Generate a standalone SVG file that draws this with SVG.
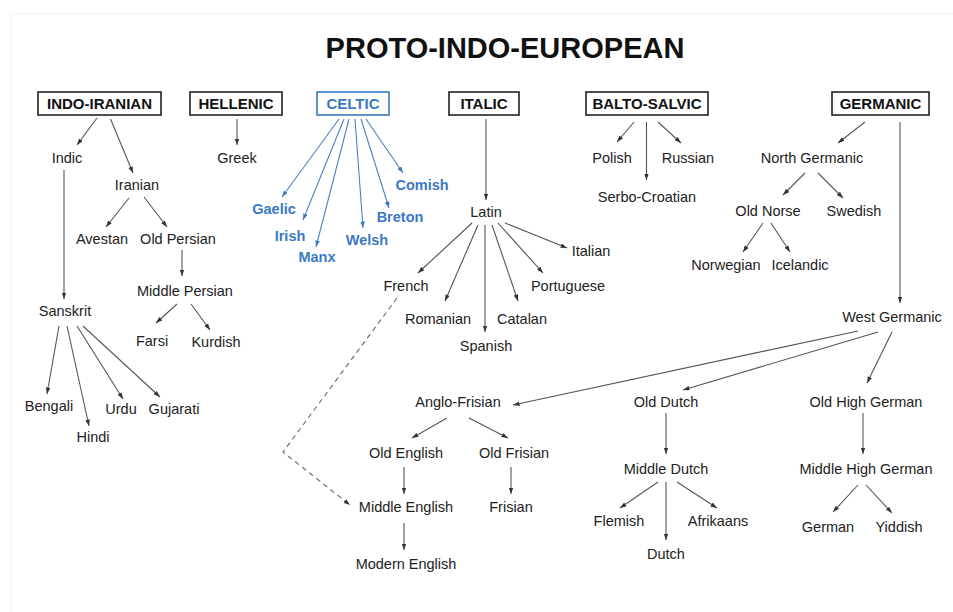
<svg xmlns="http://www.w3.org/2000/svg" width="953" height="612" viewBox="0 0 953 612">
<style>
  .t{font-family:"Liberation Sans",Arial,sans-serif;font-size:14.5px;fill:#222;text-anchor:middle}
  .b{font-family:"Liberation Sans",Arial,sans-serif;font-size:15px;font-weight:bold;fill:#111;text-anchor:middle}
  .c{font-family:"Liberation Sans",Arial,sans-serif;font-size:14.5px;font-weight:bold;fill:#3b78c4;text-anchor:middle}
  .box{fill:#fff;stroke:#222;stroke-width:1.6}
  .cbox{fill:#fff;stroke:#3b78c4;stroke-width:1.6}
  .l{stroke:#555;stroke-width:1.1;fill:none;marker-end:url(#ah)}
  .lb{stroke:#4a82c8;stroke-width:1.1;fill:none;marker-end:url(#ahb)}
  .d{stroke:#666;stroke-width:1.1;fill:none;stroke-dasharray:5 4;marker-end:url(#ah)}
</style>
<defs>
  <marker id="ah" markerUnits="userSpaceOnUse" markerWidth="7" markerHeight="5" refX="6.5" refY="2.3" orient="auto">
    <path d="M0,0 L6.5,2.3 L0,4.6 z" fill="#333"/>
  </marker>
  <marker id="ahb" markerUnits="userSpaceOnUse" markerWidth="7" markerHeight="5" refX="6.5" refY="2.3" orient="auto">
    <path d="M0,0 L6.5,2.3 L0,4.6 z" fill="#3b78c4"/>
  </marker>
</defs>
<rect width="953" height="612" fill="#fff"/>
<polyline points="11,612 11,14 953,14" fill="none" stroke="#efefef" stroke-width="1"/>

<text x="505" y="58" style="font-family:'Liberation Sans',Arial,sans-serif;font-size:29px;font-weight:bold;fill:#111;text-anchor:middle">PROTO-INDO-EUROPEAN</text>

<g id="connectors">
  <!-- Indo-Iranian -->
  <line class="l" x1="97" y1="118" x2="77" y2="145"/>
  <line class="l" x1="110.5" y1="119" x2="133" y2="173"/>
  <line class="l" x1="129" y1="198" x2="106" y2="227"/>
  <line class="l" x1="144" y1="197" x2="167" y2="227"/>
  <line class="l" x1="182" y1="250" x2="182" y2="276"/>
  <line class="l" x1="64" y1="170" x2="64" y2="299"/>
  <line class="l" x1="177" y1="304" x2="156" y2="323"/>
  <line class="l" x1="191" y1="304" x2="210" y2="330"/>
  <line class="l" x1="59" y1="326" x2="47" y2="394"/>
  <line class="l" x1="67" y1="326" x2="89" y2="426"/>
  <line class="l" x1="77" y1="326" x2="123" y2="399"/>
  <line class="l" x1="83" y1="326" x2="160" y2="397"/>
  <!-- Hellenic -->
  <line class="l" x1="237" y1="119" x2="237" y2="145"/>
  <!-- Celtic -->
  <line class="lb" x1="339" y1="119" x2="282" y2="197"/>
  <line class="lb" x1="344" y1="119" x2="303" y2="220"/>
  <line class="lb" x1="349" y1="119" x2="316" y2="247"/>
  <line class="lb" x1="355" y1="119" x2="363" y2="228"/>
  <line class="lb" x1="361" y1="119" x2="389" y2="208"/>
  <line class="lb" x1="366" y1="119" x2="403" y2="173"/>
  <!-- Italic -->
  <line class="l" x1="486" y1="119" x2="486" y2="200"/>
  <line class="l" x1="472" y1="223" x2="418" y2="273"/>
  <line class="l" x1="478" y1="225" x2="445" y2="301"/>
  <line class="l" x1="485" y1="225" x2="485" y2="332"/>
  <line class="l" x1="492" y1="225" x2="518" y2="301"/>
  <line class="l" x1="498" y1="223" x2="543" y2="273"/>
  <line class="l" x1="505" y1="223" x2="567" y2="248"/>
  <polyline class="d" points="397,298 283,452 350,505"/>
  <!-- Balto-Slavic -->
  <line class="l" x1="634" y1="122" x2="617" y2="142"/>
  <line class="l" x1="646.5" y1="122" x2="646.5" y2="180"/>
  <line class="l" x1="658" y1="122" x2="681" y2="143"/>
  <!-- Germanic -->
  <line class="l" x1="865" y1="122" x2="838" y2="143"/>
  <line class="l" x1="900" y1="122" x2="900" y2="303"/>
  <line class="l" x1="805" y1="173" x2="783" y2="195"/>
  <line class="l" x1="818" y1="173" x2="843" y2="198"/>
  <line class="l" x1="763" y1="223" x2="743" y2="252"/>
  <line class="l" x1="771" y1="223" x2="790" y2="252"/>
  <line class="l" x1="858" y1="331" x2="513" y2="405"/>
  <line class="l" x1="878" y1="332" x2="683" y2="390"/>
  <line class="l" x1="892" y1="332" x2="867" y2="383"/>
  <line class="l" x1="447" y1="418" x2="412" y2="438"/>
  <line class="l" x1="469" y1="418" x2="508" y2="438"/>
  <line class="l" x1="404" y1="467" x2="404" y2="494"/>
  <line class="l" x1="511" y1="467" x2="511" y2="494"/>
  <line class="l" x1="404" y1="523" x2="404" y2="550"/>
  <line class="l" x1="666" y1="413" x2="666" y2="454"/>
  <line class="l" x1="863" y1="413" x2="863" y2="454"/>
  <line class="l" x1="658" y1="482" x2="620" y2="508"/>
  <line class="l" x1="666" y1="482" x2="666" y2="540"/>
  <line class="l" x1="677" y1="482" x2="717" y2="508"/>
  <line class="l" x1="858" y1="485" x2="833" y2="512"/>
  <line class="l" x1="866" y1="485" x2="892" y2="513"/>
</g>

<!-- Top-level boxes -->
<g id="indo-iranian"><rect class="box" x="38" y="92" width="123" height="23"/><text class="b" x="99.5" y="109">INDO-IRANIAN</text></g>
<g id="hellenic"><rect class="box" x="190" y="92" width="92" height="23"/><text class="b" x="236" y="109">HELLENIC</text></g>
<g id="celtic"><rect class="cbox" x="317" y="92" width="72" height="23"/><text class="c" x="353" y="109" style="font-size:15px">CELTIC</text></g>
<g id="italic"><rect class="box" x="449" y="92" width="70" height="23"/><text class="b" x="484" y="109">ITALIC</text></g>
<g id="balto-salvic"><rect class="box" x="586" y="92" width="122" height="23"/><text class="b" x="647" y="109">BALTO-SALVIC</text></g>
<g id="germanic"><rect class="box" x="832" y="92" width="97" height="23"/><text class="b" x="880.5" y="109">GERMANIC</text></g>

<!-- Indo-Iranian branch -->
<g id="indic"><text class="t" x="67" y="163">Indic</text></g>
<g id="iranian"><text class="t" x="137" y="190">Iranian</text></g>
<g id="avestan"><text class="t" x="102" y="244">Avestan</text></g>
<g id="old-persian"><text class="t" x="178" y="244">Old Persian</text></g>
<g id="middle-persian"><text class="t" x="185" y="296">Middle Persian</text></g>
<g id="farsi"><text class="t" x="152" y="346">Farsi</text></g>
<g id="kurdish"><text class="t" x="216" y="347">Kurdish</text></g>
<g id="sanskrit"><text class="t" x="65" y="316">Sanskrit</text></g>
<g id="bengali"><text class="t" x="49" y="411">Bengali</text></g>
<g id="hindi"><text class="t" x="93" y="442">Hindi</text></g>
<g id="urdu"><text class="t" x="121" y="414">Urdu</text></g>
<g id="gujarati"><text class="t" x="174" y="414">Gujarati</text></g>

<!-- Hellenic -->
<g id="greek"><text class="t" x="237" y="163">Greek</text></g>

<!-- Celtic -->
<g id="gaelic"><text class="c" x="274" y="214">Gaelic</text></g>
<g id="irish"><text class="c" x="290" y="241">Irish</text></g>
<g id="manx"><text class="c" x="317" y="262">Manx</text></g>
<g id="welsh"><text class="c" x="367" y="245">Welsh</text></g>
<g id="breton"><text class="c" x="400" y="222">Breton</text></g>
<g id="comish"><text class="c" x="422" y="190">Comish</text></g>

<!-- Italic -->
<g id="latin"><text class="t" x="486" y="217">Latin</text></g>
<g id="italian"><text class="t" x="591" y="256">Italian</text></g>
<g id="french"><text class="t" x="406" y="291">French</text></g>
<g id="portuguese"><text class="t" x="568" y="291">Portuguese</text></g>
<g id="romanian"><text class="t" x="438" y="324">Romanian</text></g>
<g id="catalan"><text class="t" x="522" y="324">Catalan</text></g>
<g id="spanish"><text class="t" x="486" y="351">Spanish</text></g>

<!-- Balto-Slavic -->
<g id="polish"><text class="t" x="612" y="163">Polish</text></g>
<g id="russian"><text class="t" x="688" y="163">Russian</text></g>
<g id="serbo-croatian"><text class="t" x="647" y="202">Serbo-Croatian</text></g>

<!-- Germanic -->
<g id="north-germanic"><text class="t" x="812" y="163">North Germanic</text></g>
<g id="old-norse"><text class="t" x="768" y="216">Old Norse</text></g>
<g id="swedish"><text class="t" x="854" y="216">Swedish</text></g>
<g id="norwegian"><text class="t" x="726" y="270">Norwegian</text></g>
<g id="icelandic"><text class="t" x="800" y="270">Icelandic</text></g>
<g id="west-germanic"><text class="t" x="892" y="322">West Germanic</text></g>
<g id="anglo-frisian"><text class="t" x="458" y="407">Anglo-Frisian</text></g>
<g id="old-english"><text class="t" x="406" y="458">Old English</text></g>
<g id="old-frisian"><text class="t" x="514" y="458">Old Frisian</text></g>
<g id="middle-english"><text class="t" x="406" y="512">Middle English</text></g>
<g id="frisian"><text class="t" x="511" y="512">Frisian</text></g>
<g id="modern-english"><text class="t" x="406" y="569">Modern English</text></g>
<g id="old-dutch"><text class="t" x="666" y="407">Old Dutch</text></g>
<g id="middle-dutch"><text class="t" x="666" y="474">Middle Dutch</text></g>
<g id="flemish"><text class="t" x="619" y="526">Flemish</text></g>
<g id="dutch"><text class="t" x="666" y="559">Dutch</text></g>
<g id="afrikaans"><text class="t" x="718" y="526">Afrikaans</text></g>
<g id="old-high-german"><text class="t" x="866" y="407">Old High German</text></g>
<g id="middle-high-german"><text class="t" x="866" y="474">Middle High German</text></g>
<g id="german"><text class="t" x="828" y="532">German</text></g>
<g id="yiddish"><text class="t" x="899" y="532">Yiddish</text></g>
</svg>
